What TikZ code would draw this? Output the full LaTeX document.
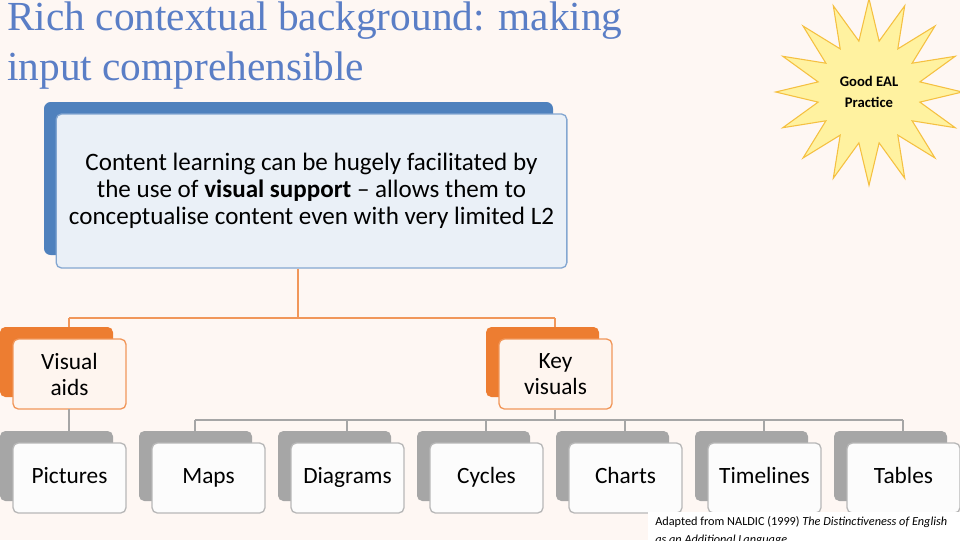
\documentclass[tikz,border=0pt]{standalone}
\usepackage{fontspec}
\setmainfont{Carlito}
\newfontfamily\titlefont{Liberation Serif}
\usepackage{xcolor}
\usetikzlibrary{positioning, shapes.geometric}

\definecolor{titleblue}{HTML}{5A7EC6}
\definecolor{boxblue}{HTML}{4F81BD}
\definecolor{boxorange}{HTML}{ED7D31}
\definecolor{boxgrey}{HTML}{A6A6A6}
\definecolor{starfill}{HTML}{FFF2A0}
\definecolor{starline}{HTML}{F5C041}

\tikzset{
    front/.style={rounded corners=4pt, draw, line width=1pt, minimum width=84.75pt,
        minimum height=52.5pt, align=center, font=\fontsize{17.5}{19.5}\selectfont},
    link/.style={draw=boxgrey, line width=1pt}
}

\begin{document}
\begin{tikzpicture}[x=0.75pt, y=-0.75pt]
    \useasboundingbox (0,0) rectangle (960,540);
    \fill[white!94!boxorange] (0,0) rectangle (960,540);

    % TITLE
    \node[anchor=north west, align=left, text=titleblue, inner sep=0pt,
        font=\titlefont\fontsize{31}{37.5}\selectfont] (title) at (7,2)
        {Rich contextual background: making\\input comprehensible};

    % STAR
    \node[star, star points=16, star point ratio=1.8, minimum size=140pt,
        fill=starfill, draw=starline, line width=0.8pt, align=center,
        font=\bfseries\fontsize{11}{16}\selectfont] (badge) at (869,92)
        {Good EAL\\Practice};

    % TOP BOX
    \fill[boxblue, rounded corners=5pt] (44,102) rectangle (553,255);
    \node[front, draw=boxblue!70, fill=white!88!boxblue, minimum width=383pt,
        minimum height=115.5pt, font=\fontsize{18.8}{20.25}\selectfont] (main) at (311.5,191)
        {Content learning can be hugely facilitated by\\the use of \textbf{visual support} -- allows them to\\conceptualise content even with very limited L2};

    % SECOND ROW
    \fill[boxorange, rounded corners=4pt] (0,327) rectangle (113,397);
    \node[front, draw=boxorange!80, fill=white!92!boxorange] (aids) at (69.5,374) {Visual\\aids};
    \fill[boxorange, rounded corners=4pt] (486,327) rectangle (599,397);
    \node[front, draw=boxorange!80, fill=white!92!boxorange] (keyvis) at (555.5,374) {Key\\visuals};

    % BOTTOM ROW
    \foreach \name/\label [count=\i from 0] in {pic/Pictures, maps/Maps, diag/Diagrams,
        cyc/Cycles, chart/Charts, time/Timelines, tab/Tables} {
        \fill[boxgrey, rounded corners=4pt] ({\i*139},431) rectangle ({\i*139+113},501);
        \node[front, draw=boxgrey!80, fill=white!97!boxgrey] (\name) at ({\i*139+69.5},478) {\strut\label};
    }

    % CONNECTORS
    \coordinate (split) at (298,318);
    \draw[link, draw=boxorange!80] (main.south -| split) -- (split);
    \draw[link, draw=boxorange!80] (69,318) -- (555,318);
    \draw[link, draw=boxorange!80] (69,318) -- (69,327);
    \draw[link, draw=boxorange!80] (555,318) -- (555,327);
    \draw[link] (69,409) -- (69,431);
    \coordinate (fork) at (555,420);
    \draw[link] (keyvis.south -| fork) -- (fork);
    \draw[link] (195,420) -- (903,420);
    \foreach \x in {195,347,486,625,764,903} {
        \draw[link] (\x,420) -- (\x,431);
    }

    % SOURCE NOTE
    \begin{scope}
        \clip (648,512) rectangle (960,540);
        \fill[white] (648,512) rectangle (960,540);
        \node[anchor=north west, align=left, inner sep=0pt,
            font=\fontsize{9.2}{14}\selectfont] (note) at (655,516)
            {Adapted from NALDIC (1999) \textit{The Distinctiveness of English}\\\textit{as an Additional Language}};
    \end{scope}
\end{tikzpicture}
\end{document}
